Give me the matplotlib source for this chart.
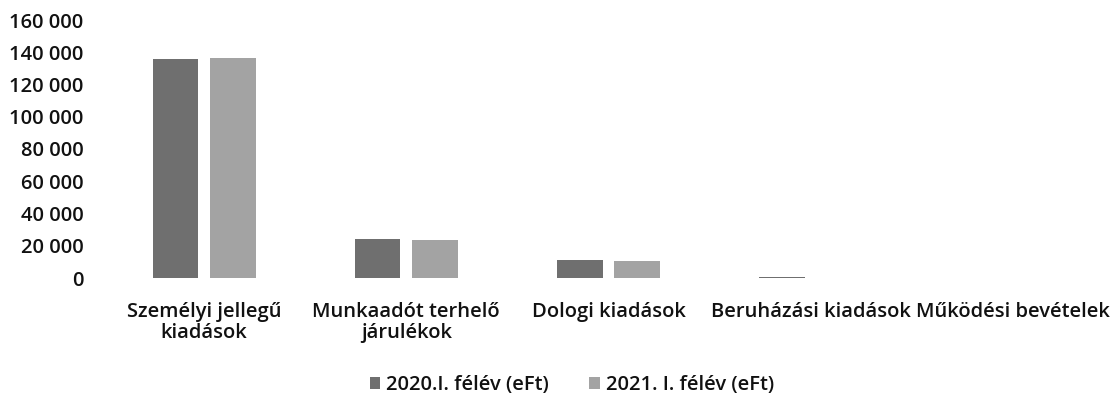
import matplotlib
matplotlib.use('Agg')
import matplotlib.pyplot as plt
from matplotlib.ticker import FuncFormatter
import numpy as np

categories = ['Személyi jellegű\nkiadások', 'Munkaadót terhelő\njárulékok', 'Dologi kiadások',
              'Beruházási kiadások', 'Működési bevételek']
series_names = ['2020.I. félév (eFt)', '2021. I. félév (eFt)']
values_2020 = [135800, 24300, 11200, 500, 0]
values_2021 = [136400, 23600, 10300, 0, 0]
colors = ['#6f6f6f', '#a3a3a3']

plt.rcParams['font.family'] = ['Open Sans', 'DejaVu Sans']

fig = plt.figure(figsize=(11.14, 4.0), dpi=100)
ax = fig.add_axes([103 / 1114, 122 / 400, 1 - 103 / 1114, 258 / 400])

x = np.arange(len(categories))
w = 0.225
ax.bar(x - 0.142, values_2020, w, color=colors[0], label=series_names[0])
ax.bar(x + 0.142, values_2021, w, color=colors[1], label=series_names[1])

ax.set_xlim(-0.5, len(categories) - 0.5)
ax.set_ylim(0, 160000)
ax.set_yticks(np.arange(0, 160001, 20000))
ax.yaxis.set_major_formatter(FuncFormatter(lambda v, p: f'{int(v):,}'.replace(',', ' ')))
ax.set_xticks(x)
ax.set_xticklabels(categories, linespacing=1.12)
ax.tick_params(axis='y', length=0, pad=14, labelsize=14.5, labelcolor='#111111')
ax.tick_params(axis='x', length=0, pad=17, labelsize=14.5, labelcolor='#111111')
for lab in ax.get_xticklabels() + ax.get_yticklabels():
    lab.set_fontweight('semibold')
for s in ax.spines.values():
    s.set_visible(False)

leg = fig.legend(loc='center', bbox_to_anchor=(572 / 1114, 1 - 385 / 400), ncol=2, frameon=False,
                 fontsize=14.5, handlelength=0.5, handleheight=0.5, handletextpad=0.3,
                 columnspacing=2.0, labelcolor='#111111')
for t in leg.get_texts():
    t.set_fontweight('semibold')

fig.savefig('out.png', dpi=100)
